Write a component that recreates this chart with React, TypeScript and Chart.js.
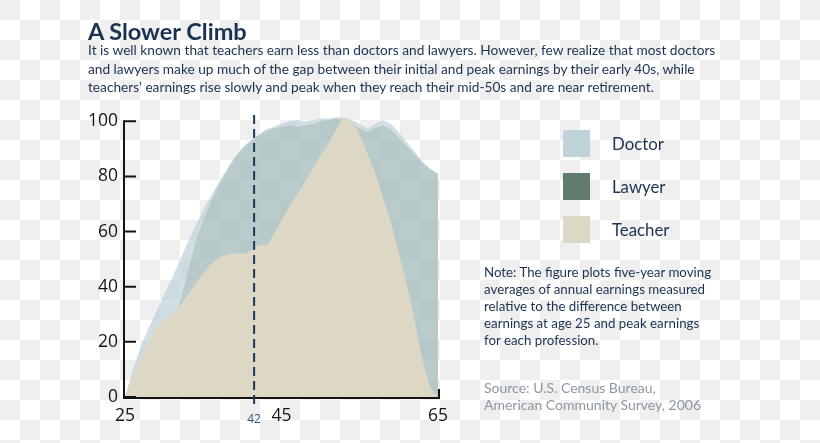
import React, { useEffect, useRef } from 'react';
import { Chart, registerables } from 'chart.js';

Chart.register(...registerables);

// ---- data ----
const ages = [25, 26, 27, 28, 29, 30, 31, 32, 33, 34, 35, 36, 37, 38, 39, 40, 41, 42, 43, 44, 45, 46, 47, 48, 49, 50, 51, 52, 53, 54, 55, 56, 57, 58, 59, 60, 61, 62, 63, 64, 65];
const doctor = [0, 10, 18, 25, 31, 37, 43, 49.5, 56, 62, 68, 73, 78, 82.5, 87, 90.5, 93, 95, 97, 98, 99, 100, 100.5, 100, 100.5, 101, 101, 101.5, 101.5, 100.5, 99, 97.5, 99, 100.5, 99, 96, 92.5, 89, 85.5, 83, 81];
const lawyer = [0, 4, 8, 12, 16, 21, 27, 34, 45, 56, 64, 71, 77, 82, 86.5, 90, 92.5, 94.5, 96.5, 97.5, 98, 98.5, 98, 98.5, 99, 100, 100.5, 101, 100.5, 99, 97.5, 96, 97.5, 98.5, 97, 94, 91, 88, 85, 82.5, 81];
const teacher = [0, 8, 14, 20, 25, 27.5, 30, 33, 37, 41, 45, 48, 50.5, 51.5, 52, 52, 53, 55, 55, 59, 64, 69, 73.5, 78, 83, 87.5, 92, 97, 101.3, 99.8, 95, 88, 81, 72, 63, 52, 41, 28, 14, 4, 0];
const xTickValues = [25, 45, 65];
const yTickValues = [0, 20, 40, 60, 80, 100];
const markerAge = 41.5;
const markerLabel = '42';
const seriesNames = ['Doctor', 'Lawyer', 'Teacher'];
const legendColors = ['#c0d3db', '#617c6c', '#ddd7c6'];

const titleText = 'A Slower Climb';
const subtitleLines = [
  'It is well known that teachers earn less than doctors and lawyers. However, few realize that most doctors',
  'and lawyers make up much of the gap between their initial and peak earnings by their early 40s, while',
  'teachers\u2019 earnings rise slowly and peak when they reach their mid-50s and are near retirement.',
];
const noteLines = [
  'Note: The figure plots five-year moving',
  'averages of annual earnings measured',
  'relative to the difference between',
  'earnings at age 25 and peak earnings',
  'for each profession.',
];
const sourceLines = ['Source: U.S. Census Bureau,', 'American Community Survey, 2006'];

const NAVY = '#1a3250';
const TEXT_FONT = 'Lato, "Open Sans", sans-serif';

const axesPlugin = {
  id: 'customAxes',
  afterDatasetsDraw(chart: any) {
    const { ctx } = chart;
    const xs = chart.scales.x;
    const ys = chart.scales.y;
    const x0 = xs.getPixelForValue(ages[0]);
    const x1 = xs.getPixelForValue(ages[ages.length - 1]);
    const y0 = ys.getPixelForValue(0);
    const yTop = ys.getPixelForValue(yTickValues[yTickValues.length - 1]);
    ctx.save();
    ctx.strokeStyle = '#141414';
    ctx.lineWidth = 2;
    ctx.beginPath();
    ctx.moveTo(x0 - 1, yTop - 1);
    ctx.lineTo(x0 - 1, y0 + 1);
    ctx.lineTo(x1 + 1, y0 + 1);
    ctx.lineTo(x1 + 1, y0 - 8);
    ctx.stroke();
    ctx.beginPath();
    yTickValues.forEach((v) => {
      const py = ys.getPixelForValue(v);
      ctx.moveTo(x0 - 1, py);
      ctx.lineTo(x0 + 11, py);
    });
    ctx.stroke();
    // dashed marker
    const mx = xs.getPixelForValue(markerAge);
    ctx.strokeStyle = '#1b3a5a';
    ctx.lineWidth = 2;
    ctx.setLineDash([9, 5]);
    ctx.beginPath();
    ctx.moveTo(mx, chart.chartArea.top + 2);
    ctx.lineTo(mx, y0 + 11);
    ctx.stroke();
    ctx.setLineDash([]);
    ctx.fillStyle = '#2d5a80';
    ctx.font = '12px "Open Sans"';
    ctx.textAlign = 'center';
    ctx.textBaseline = 'middle';
    ctx.fillText(markerLabel, mx, y0 + 23);
    ctx.restore();
  },
};

export default function App() {
  const canvasRef = useRef<HTMLCanvasElement | null>(null);

  useEffect(() => {
    if (!canvasRef.current) return;
    const mk = (vals: number[]) => vals.map((v, i) => ({ x: ages[i], y: v }));
    const chart = new Chart(canvasRef.current, {
      type: 'line',
      data: {
        datasets: [
          {
            label: seriesNames[0],
            data: mk(doctor),
            backgroundColor: 'rgba(191,210,218,0.72)',
            borderWidth: 0,
            pointRadius: 0,
            fill: 'origin',
            tension: 0,
            order: 3,
          },
          {
            label: seriesNames[1],
            data: mk(lawyer),
            backgroundColor: 'rgba(97,123,107,0.2)',
            borderWidth: 0,
            pointRadius: 0,
            fill: 'origin',
            tension: 0,
            order: 2,
          },
          {
            label: seriesNames[2],
            data: mk(teacher),
            backgroundColor: '#ddd7c5',
            borderWidth: 0,
            pointRadius: 0,
            fill: 'origin',
            cubicInterpolationMode: 'monotone',
            order: 1,
          },
        ],
      },
      options: {
        responsive: false,
        animation: false,
        events: [],
        layout: { padding: { top: 113, right: 382, left: 0, bottom: 0 } },
        plugins: { legend: { display: false }, tooltip: { enabled: false } },
        scales: {
          x: {
            type: 'linear',
            min: 25,
            max: 65,
            grid: { display: false, drawTicks: false },
            border: { display: false },
            afterFit: (s: any) => { s.height = 46; },
            afterBuildTicks: (s: any) => { s.ticks = xTickValues.map((v) => ({ value: v })); },
            ticks: {
              autoSkip: false,
              maxRotation: 0,
              padding: 9,
              color: '#151515',
              font: { family: '"Open Sans"', size: 17.5 },
            },
          },
          y: {
            min: 0,
            max: 103,
            grid: { display: false, drawTicks: false },
            border: { display: false },
            afterFit: (s: any) => { s.width = 125; },
            afterBuildTicks: (s: any) => { s.ticks = yTickValues.map((v) => ({ value: v })); },
            ticks: {
              padding: 7,
              color: '#151515',
              font: { family: '"Open Sans"', size: 17.5 },
            },
          },
        },
      },
      plugins: [axesPlugin],
    });
    return () => chart.destroy();
  }, []);

  return (
    <div
      style={{
        position: 'fixed',
        left: 0,
        top: 0,
        width: 820,
        height: 443,
        overflow: 'hidden',
        background: 'repeating-conic-gradient(#ffffff 0 25%, #efefef 0 50%) 0 0 / 40px 40px',
        fontFamily: TEXT_FONT,
      }}
    >
      <canvas ref={canvasRef} width={820} height={443} style={{ position: 'absolute', left: 0, top: 0, width: 820, height: 443 }} />
      <div style={{ position: 'absolute', left: 88, top: 16, fontSize: 23.5, fontWeight: 700, color: NAVY, whiteSpace: 'nowrap', lineHeight: '30px' }}>
        {titleText}
      </div>
      <div style={{ position: 'absolute', left: 88, top: 41, fontSize: 13.7, color: NAVY, lineHeight: '18.5px', whiteSpace: 'nowrap' }}>
        {subtitleLines.map((l, i) => (<div key={i}>{l}</div>))}
      </div>
      {seriesNames.map((n, i) => (
        <React.Fragment key={n}>
          <div style={{ position: 'absolute', left: 563, top: 130 + i * 43, width: 27, height: 27, background: legendColors[i] }} />
          <div style={{ position: 'absolute', left: 612, top: 130 + i * 43, height: 27, lineHeight: '27px', fontSize: 16.8, color: NAVY, whiteSpace: 'nowrap' }}>{n}</div>
        </React.Fragment>
      ))}
      <div style={{ position: 'absolute', left: 484, top: 264, fontSize: 13.3, color: NAVY, lineHeight: '17px', whiteSpace: 'nowrap' }}>
        {noteLines.map((l, i) => (<div key={i}>{l}</div>))}
      </div>
      <div style={{ position: 'absolute', left: 484, top: 379, fontSize: 14, color: '#8c97a2', lineHeight: '17px', whiteSpace: 'nowrap' }}>
        {sourceLines.map((l, i) => (<div key={i}>{l}</div>))}
      </div>
    </div>
  );
}
